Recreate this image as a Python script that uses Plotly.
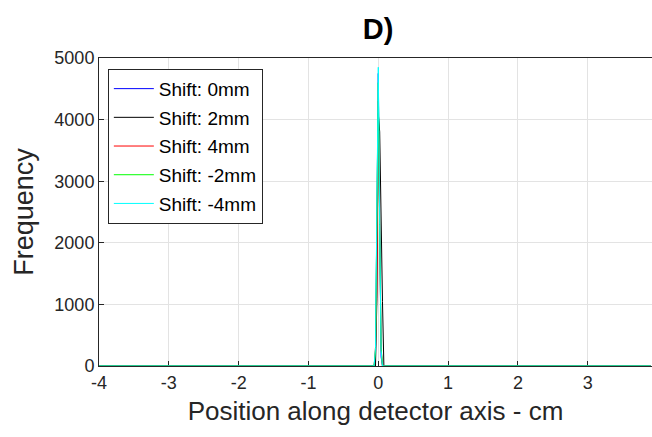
import plotly.graph_objects as go

# Data
positions = [-4.0, -0.08, -0.06, -0.04, -0.02, 0.0, 0.02, 0.04, 0.06, 0.08, 3.9]
series_names = ["Shift: 0mm", "Shift: 2mm", "Shift: 4mm", "Shift: -2mm", "Shift: -4mm"]
freq_0mm = [0, 0, 0, 150, 2450, 4750, 2300, 150, 0, 0, 0]
freq_2mm = [0, 0, 0, 0, 1100, 4100, 3800, 2250, 1050, 0, 0]
freq_4mm = [0, 0, 0, 300, 1200, 4300, 2500, 300, 0, 0, 0]
freq_m2mm = [0, 0, 0, 250, 2500, 4600, 2250, 300, 0, 0, 0]
freq_m4mm = [0, 0, 0, 300, 2550, 4850, 2300, 250, 0, 0, 0]
x_ticks = [-4, -3, -2, -1, 0, 1, 2, 3]
y_ticks = [0, 1000, 2000, 3000, 4000, 5000]

colors = ["#0000ff", "#000000", "#ff0000", "#00ff00", "#00ffff"]
all_series = [freq_0mm, freq_2mm, freq_4mm, freq_m2mm, freq_m4mm]

fig = go.Figure()
for i, (name, ys) in enumerate(zip(series_names, all_series)):
    fig.add_trace(go.Scatter(
        x=positions, y=ys, mode="lines", name=name,
        line=dict(color=colors[i], width=1),
        legendgroup=f"g{i}",
    ))

font_family = "Liberation Sans, Arial, sans-serif"
fig.update_layout(
    width=652, height=437,
    margin=dict(l=99, r=0, t=58, b=71),
    paper_bgcolor="white", plot_bgcolor="white",
    font=dict(family=font_family, color="#262626"),
    title=dict(text="<b>D)</b>", x=0.58, xanchor="center", y=0.935, yanchor="middle",
               font=dict(size=29, color="black", family=font_family)),
    showlegend=True,
    legend=dict(
        x=0.016, y=0.965, xanchor="left", yanchor="top",
        bgcolor="white", bordercolor="#262626", borderwidth=1,
        font=dict(size=19, color="black", family=font_family),
        traceorder="grouped", tracegroupgap=1, itemwidth=40,
    ),
    xaxis=dict(
        range=[-4, 3.92], tickvals=x_ticks, ticktext=[str(v) for v in x_ticks],
        showgrid=True, gridcolor="#e3e3e3", gridwidth=1,
        zeroline=False, showline=True, linecolor="#262626", linewidth=1,
        mirror=True, ticks="inside", ticklen=5, tickcolor="#262626",
        layer="below traces",
        tickfont=dict(size=18, color="#262626"),
        title=dict(text="Position along detector axis - cm", font=dict(size=26, color="#262626"), standoff=10),
    ),
    yaxis=dict(
        range=[0, 5000], tickvals=y_ticks, ticktext=[str(v) for v in y_ticks],
        showgrid=True, gridcolor="#e3e3e3", gridwidth=1,
        zeroline=False, showline=True, linecolor="#262626", linewidth=1,
        mirror=True, ticks="inside", ticklen=5, tickcolor="#262626",
        layer="below traces",
        tickfont=dict(size=18, color="#262626"),
        title=dict(text="Frequency", font=dict(size=27, color="#262626"), standoff=12),
    ),
)

fig.write_html("out.html")
